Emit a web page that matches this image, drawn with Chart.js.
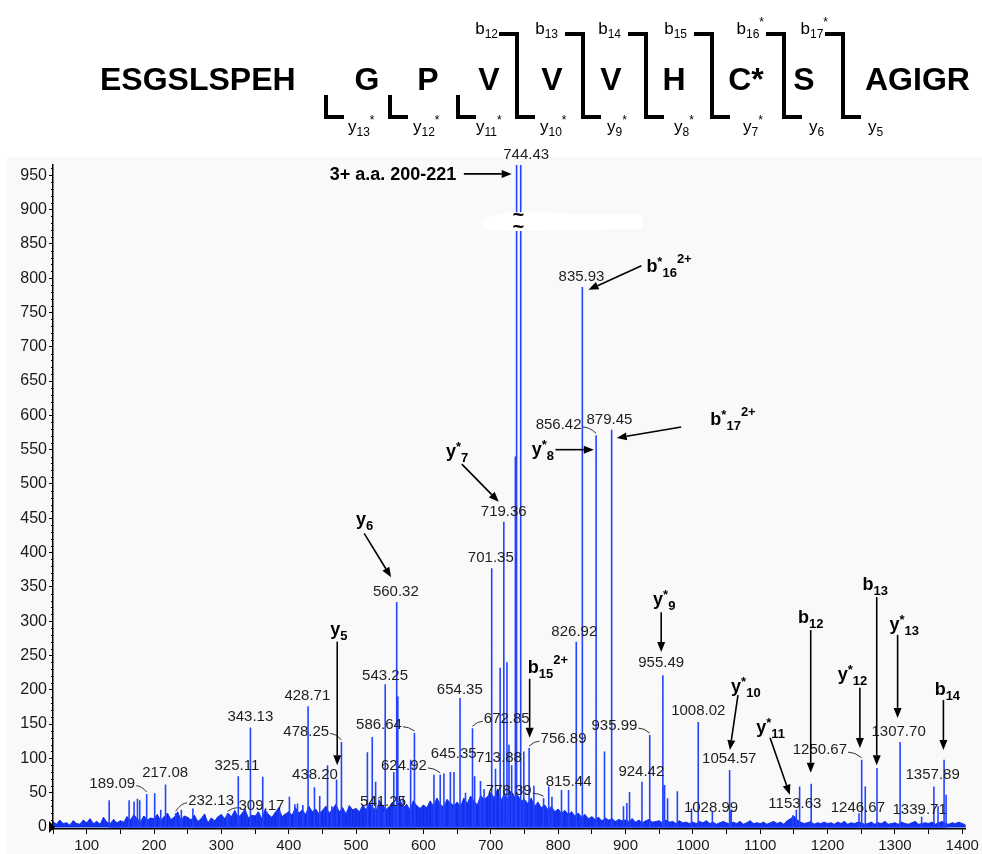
<!DOCTYPE html>
<html>
<head>
<meta charset="utf-8">
<script src="https://cdn.jsdelivr.net/npm/chart.js@4.4.1/dist/chart.umd.min.js"></script>
<style>
  html, body { margin: 0; padding: 0; background: #fff; }
  #wrap { width: 982px; height: 854px; }
</style>
</head>
<body>
<div id="wrap"><canvas id="spec" width="982" height="854"></canvas></div>
<script>
// ---- data ----
const peakMz = [133.4, 163.0, 170.4, 175.4, 178.8, 189.09, 201.0, 210.0, 217.08, 232.13, 240.5, 257.7,
  309.17, 325.11, 343.13, 361.4, 386.0, 401.0, 409.0, 413.0, 421.0, 428.71, 438.20, 446.0, 457.6, 464.0,
  471.0, 478.25, 516.8, 524.0, 529.0, 534.0, 541.25, 543.25, 556.0, 560.32, 562.0, 570.0, 581.0, 586.64,
  615.6, 624.92, 630.4, 640.0, 645.35, 654.35, 662.5, 672.85, 676.0, 684.7, 690.0, 701.35, 707.0, 713.88,
  719.36, 724.0, 727.0, 731.0, 736.5, 738.3, 744.43, 749.0, 756.89, 764.0, 778.39, 786.0, 790.8, 805.0,
  815.44, 826.92, 835.93, 856.42, 868.8, 879.45, 897.0, 902.0, 906.0, 924.42, 935.99, 955.49, 958.0,
  962.5, 977.0, 998.0, 1008.02, 1028.99, 1054.57, 1057.0, 1148.6, 1153.63, 1158.5, 1175.7, 1246.67,
  1250.67, 1256.0, 1273.4, 1307.70, 1339.71, 1357.89, 1364.0, 1373.0, 1376.0];
const peakIntensity = [39, 39, 37, 41, 39, 48, 49, 25, 62, 20, 25, 27,
  20, 74, 145, 73, 26, 44, 33, 34, 32, 176, 58, 45, 90, 30,
  69, 124, 109, 131, 66, 40, 22, 208, 80, 328, 190, 45, 98, 137,
  76, 76, 78, 80, 80, 188, 50, 144, 74, 67, 55, 377, 85, 232,
  445, 240, 120, 90, 540, 1100, 1100, 110, 115, 60, 42, 59, 44, 54,
  54, 270, 787, 571, 110, 579, 30, 35, 51, 66, 134, 221, 61,
  42, 52, 27, 153, 22, 83, 24, 17, 25, 59, 63, 20,
  98, 59, 86, 124, 15, 59, 30, 98, 47];

// baseline noise envelope, every 5 m/z from 50 to 1405
const noiseStartMz = 50;
const noiseStepMz = 5;
const noiseLevels = [
  8, 4, 10, 5, 6, 3, 9, 5, 4, 10,
  6, 12, 5, 8, 4, 14, 7, 5, 11, 6,
  9, 7, 15, 10, 18, 12, 8, 16, 10, 13,
  12, 18, 9, 15, 20, 11, 14, 22, 10, 16,
  14, 10, 17, 8, 12, 19, 6, 13, 9, 15,
  18, 12, 20, 15, 24, 14, 19, 26, 13, 17,
  16, 22, 12, 25, 18, 14, 21, 28, 15, 19,
  22, 17, 28, 20, 25, 18, 30, 22, 26, 19,
  24, 30, 20, 26, 33, 22, 28, 19, 31, 25,
  27, 22, 32, 25, 35, 28, 24, 38, 30, 26,
  30, 36, 26, 40, 28, 33, 25, 38, 31, 27,
  32, 28, 38, 30, 42, 33, 29, 40, 35, 31,
  36, 30, 42, 34, 45, 38, 32, 46, 40, 44,
  50, 42, 55, 38, 48, 40, 52, 44, 46, 38,
  40, 34, 42, 30, 36, 28, 32, 25, 30, 22,
  26, 20, 24, 18, 22, 16, 20, 14, 18, 12,
  15, 11, 14, 9, 13, 10, 12, 8, 11, 9,
  10, 8, 12, 7, 10, 6, 9, 11, 7, 8,
  9, 6, 10, 7, 8, 5, 9, 6, 7, 5,
  7, 5, 8, 6, 9, 5, 7, 4, 6, 8,
  6, 4, 7, 5, 8, 4, 6, 9, 5, 6,
  5, 7, 4, 6, 8, 5, 7, 4, 9, 12,
  16, 10, 7, 5, 6, 8, 4, 6, 5, 7,
  5, 6, 4, 7, 5, 8, 4, 6, 5, 7,
  6, 4, 5, 7, 4, 6, 5, 8, 4, 5,
  6, 4, 7, 5, 4, 6, 8, 4, 5, 6,
  5, 7, 4, 6, 8, 5, 4, 6, 5, 7,
  5, 3];

// peak m/z labels: text, where the label sits (m/z, intensity)
const peakLabels = ['744.43', '835.93', '856.42', '879.45', '719.36', '701.35', '560.32', '826.92',
  '543.25', '654.35', '586.64', '672.85', '756.89', '713.88', '624.92', '645.35', '778.39', '815.44',
  '541.25', '935.99', '924.42', '955.49', '1008.02', '1054.57', '1028.99', '1153.63', '1250.67',
  '1246.67', '1307.70', '1357.89', '1339.71', '428.71', '478.25', '343.13', '325.11', '438.20',
  '217.08', '189.09', '232.13', '309.17'];
const peakLabelMz = [752.5, 834.7, 800.7, 876.2, 719.2, 700, 559, 824,
  543, 654, 534, 723.7, 808, 712, 571, 645, 726.7, 815.5,
  540, 883.6, 923.5, 953, 1008, 1054, 1027, 1151.5, 1188.6,
  1245, 1305.5, 1356, 1336.7, 427.6, 426, 343, 323, 439,
  216.6, 138, 284.7, 359.5];
const peakLabelLevel = [980, 802, 586, 593, 459, 392, 343, 284,
  220, 200, 149, 157, 128, 101, 89, 106, 52, 66,
  36, 147, 80, 239, 169, 99, 28, 34, 112,
  28, 138, 76, 25, 191, 139, 160, 89, 76,
  79, 63, 38, 31];
const ledLabels = ['856.42', '586.64', '672.85', '756.89', '624.92', '778.39', '935.99', '1250.67',
  '478.25', '189.09', '232.13', '309.17'];

// fragment-ion call-outs: text parts, label anchor, arrow tail -> tip (all m/z, intensity)
const ionCallouts = [
  { parts: [['3+ a.a. 200-221', 'M']], at: [554.9, 943], align: 'center', arrow: [660, 952, 731, 952] },
  { parts: [['b', 'M'], ['*', 'A'], ['16', 'S'], ['2+', 'P']], at: [931, 809], arrow: [923.6, 818, 845, 783] },
  { parts: [['b', 'M'], ['*', 'A'], ['17', 'S'], ['2+', 'P']], at: [1026, 586], arrow: [982.8, 583, 887, 567] },
  { parts: [['y', 'M'], ['*', 'A'], ['8', 'S']], at: [760.7, 542], arrow: [796, 550, 853, 550] },
  { parts: [['y', 'M'], ['*', 'A'], ['7', 'S']], at: [633.4, 539], arrow: [657, 529, 711.8, 474] },
  { parts: [['y', 'M'], ['6', 'S']], at: [500, 440], arrow: [512, 428, 552, 364] },
  { parts: [['y', 'M'], ['5', 'S']], at: [461.6, 280], arrow: [472, 270, 472, 90] },
  { parts: [['b', 'M'], ['15', 'S'], ['2+', 'P']], at: [754.8, 224], arrow: [757.7, 216, 757.7, 130] },
  { parts: [['y', 'M'], ['*', 'A'], ['9', 'S']], at: [941, 324], arrow: [953, 313, 953, 255] },
  { parts: [['y', 'M'], ['*', 'A'], ['10', 'S']], at: [1056.8, 197], arrow: [1067, 192, 1055, 112] },
  { parts: [['y', 'M'], ['*', 'A'], ['11', 'S']], at: [1094, 137], arrow: [1114.6, 130, 1144, 47] },
  { parts: [['b', 'M'], ['12', 'S']], at: [1156, 297], arrow: [1175, 287, 1175, 79] },
  { parts: [['b', 'M'], ['13', 'S']], at: [1252, 345], arrow: [1273, 335, 1273, 90] },
  { parts: [['y', 'M'], ['*', 'A'], ['12', 'S']], at: [1215, 214], arrow: [1248, 203, 1248, 115] },
  { parts: [['y', 'M'], ['*', 'A'], ['13', 'S']], at: [1292, 287], arrow: [1304, 280, 1304, 159] },
  { parts: [['b', 'M'], ['14', 'S']], at: [1359, 192], arrow: [1372, 185, 1372, 112] }
];

// peptide sequence header
const residues = ['ESGSLSPEH', 'G', 'P', 'V', 'V', 'V', 'H', 'C*', 'S', 'AGIGR'];
const bIons = [['12', ''], ['13', ''], ['14', ''], ['15', ''], ['16', '*'], ['17', '*']];
const yIons = [['13', '*'], ['12', '*'], ['11', '*'], ['10', '*'], ['9', '*'], ['8', '*'], ['7', '*'], ['6', ''], ['5', '']];

// ---- layout of the header (pixels) ----
const residueX = [100, 367, 428, 489, 552, 611, 674, 746, 804, 865];
const bracketX = [326, 390, 458, 517, 583, 646, 712, 784, 843];
const bLabelRight = [498, 558, 621, 687, 764, 828];
const yLabelLeft = [348, 413, 476, 540, 607, 674, 743, 809, 868];

const FONT = "'Liberation Sans', Arial, Helvetica, sans-serif";
const STYLES = {
  M: { size: 18, bold: true, dy: 0 },
  A: { size: 13, bold: true, dy: -6 },
  S: { size: 13, bold: true, dy: 5 },
  P: { size: 13, bold: true, dy: -9 },
  hm: { size: 17, bold: false, dy: 0 },
  hs: { size: 12, bold: false, dy: 4 },
  hp: { size: 12, bold: false, dy: -8 }
};

function rich(ctx, parts, x, y, align) {
  let w = 0;
  const segs = parts.map(([t, k]) => {
    const s = STYLES[k];
    ctx.font = (s.bold ? 'bold ' : '') + s.size + 'px ' + FONT;
    const tw = ctx.measureText(t).width;
    w += tw;
    return { t, s, tw };
  });
  let cx = align === 'center' ? x - w / 2 : align === 'right' ? x - w : x;
  ctx.textAlign = 'left';
  ctx.textBaseline = 'alphabetic';
  segs.forEach(g => {
    ctx.font = (g.s.bold ? 'bold ' : '') + g.s.size + 'px ' + FONT;
    ctx.fillText(g.t, cx, y + g.s.dy);
    cx += g.tw;
  });
  return w;
}

function arrow(ctx, x1, y1, x2, y2) {
  const ang = Math.atan2(y2 - y1, x2 - x1);
  const hl = 10, hw = 4;
  const bx = x2 - hl * Math.cos(ang), by = y2 - hl * Math.sin(ang);
  ctx.beginPath();
  ctx.moveTo(x1, y1);
  ctx.lineTo(bx, by);
  ctx.stroke();
  ctx.beginPath();
  ctx.moveTo(x2, y2);
  ctx.lineTo(bx - hw * Math.sin(ang), by + hw * Math.cos(ang));
  ctx.lineTo(bx + hw * Math.sin(ang), by - hw * Math.cos(ang));
  ctx.closePath();
  ctx.fill();
}

const decor = {
  id: 'decor',
  beforeDraw(chart) {
    const ctx = chart.ctx;
    ctx.save();
    ctx.fillStyle = '#ffffff';
    ctx.fillRect(0, 0, chart.width, chart.height);
    ctx.fillStyle = '#f9f9f9';
    ctx.fillRect(7, 157, chart.width - 7, chart.height - 157);
    ctx.restore();
  },
  afterDraw(chart) {
    const ctx = chart.ctx;
    const xs = chart.scales.x, ys = chart.scales.y;
    const px = v => xs.getPixelForValue(v);
    const py = v => ys.getPixelForValue(v);
    ctx.save();

    // broken axis band over the precursor peaks
    ctx.fillStyle = '#ffffff';
    ctx.beginPath();
    ctx.moveTo(px(688), py(884));
    ctx.quadraticCurveTo(px(700), py(898), px(760), py(896));
    ctx.lineTo(px(860), py(893));
    ctx.lineTo(px(925), py(893));
    ctx.lineTo(px(925), py(872));
    ctx.lineTo(px(800), py(870));
    ctx.quadraticCurveTo(px(700), py(866), px(688), py(874));
    ctx.closePath();
    ctx.fill();
    ctx.fillStyle = '#000';
    ctx.font = 'bold 20px ' + FONT;
    ctx.textAlign = 'center';
    ctx.textBaseline = 'middle';
    ctx.fillText('~', px(741), py(892));
    ctx.fillText('~', px(741), py(874));

    // minor ticks on the y axis
    ctx.strokeStyle = '#000';
    ctx.lineWidth = 1;
    const x0 = chart.chartArea.left;
    for (let v = 10; v <= 960; v += 10) {
      if (v % 50 === 0) continue;
      const y = Math.round(py(v)) + 0.5;
      ctx.beginPath();
      ctx.moveTo(x0 - 2, y);
      ctx.lineTo(x0, y);
      ctx.stroke();
    }
    // zero marker
    ctx.fillStyle = '#000';
    ctx.beginPath();
    ctx.moveTo(x0 - 4, py(0) - 6);
    ctx.lineTo(x0 + 2, py(0));
    ctx.lineTo(x0 - 4, py(0) + 6);
    ctx.closePath();
    ctx.fill();

    // peak labels
    ctx.font = '15px ' + FONT;
    ctx.textAlign = 'center';
    ctx.textBaseline = 'middle';
    peakLabels.forEach((t, i) => {
      const cx = px(peakLabelMz[i]), cy = py(peakLabelLevel[i]);
      ctx.fillStyle = '#1e1e1e';
      ctx.fillText(t, cx, cy);
      if (ledLabels.includes(t)) {
        const m = parseFloat(t);
        const k = peakMz.indexOf(m);
        const tx = px(m), ty = py(peakIntensity[k]) - 2;
        const w = ctx.measureText(t).width;
        const sx = tx > cx ? cx + w / 2 + 1 : cx - w / 2 - 1;
        const sy = cy + 2;
        ctx.strokeStyle = '#333';
        ctx.lineWidth = 1;
        ctx.beginPath();
        ctx.moveTo(sx, sy);
        ctx.quadraticCurveTo((sx + tx) / 2, sy, tx, ty);
        ctx.stroke();
      }
    });

    // ion call-outs
    ctx.fillStyle = '#000';
    ctx.strokeStyle = '#000';
    ionCallouts.forEach(c => {
      rich(ctx, c.parts, px(c.at[0]), py(c.at[1]), c.align || 'left');
      const a = c.arrow;
      ctx.lineWidth = 1.6;
      arrow(ctx, px(a[0]), py(a[1]), px(a[2]), py(a[3]));
    });

    // sequence header
    ctx.fillStyle = '#000';
    ctx.font = 'bold 32px ' + FONT;
    ctx.textBaseline = 'alphabetic';
    residues.forEach((r, i) => {
      ctx.textAlign = (i === 0 || i === residues.length - 1) ? 'left' : 'center';
      ctx.fillText(r, residueX[i], 90);
    });
    ctx.lineWidth = 4;
    ctx.lineJoin = 'miter';
    ctx.lineCap = 'butt';
    bracketX.forEach((bx, i) => {
      ctx.beginPath();
      if (i < 3) {
        ctx.moveTo(bx, 95);
      } else {
        ctx.moveTo(bx - 18, 34);
        ctx.lineTo(bx, 34);
      }
      ctx.lineTo(bx, 117);
      ctx.lineTo(bx + 18, 117);
      ctx.stroke();
    });
    bIons.forEach((b, i) => {
      rich(ctx, [['b', 'hm'], [b[0], 'hs'], [b[1], 'hp']], bLabelRight[i], 34, 'right');
    });
    yIons.forEach((y, i) => {
      rich(ctx, [['y', 'hm'], [y[0], 'hs'], [y[1], 'hp']], yLabelLeft[i], 132, 'left');
    });
    ctx.restore();
  }
};

const stemPoints = [];
peakMz.forEach((m, i) => {
  stemPoints.push({ x: m, y: 0 }, { x: m, y: peakIntensity[i] }, { x: m, y: 0 });
});
const noisePoints = noiseLevels.map((v, i) => ({ x: noiseStartMz + i * noiseStepMz, y: v }));
const noiseStems = [];
noisePoints.forEach(p => {
  noiseStems.push({ x: p.x, y: 0 }, { x: p.x, y: p.y }, { x: p.x, y: 0 });
});

new Chart(document.getElementById('spec'), {
  type: 'line',
  data: {
    datasets: [
      {
        data: noisePoints,
        borderColor: '#1a38f2',
        backgroundColor: '#1a38f2',
        borderWidth: 1,
        pointRadius: 0,
        fill: 'origin',
        tension: 0,
        order: 3
      },
      {
        data: noiseStems,
        borderColor: '#0c2ce8',
        borderWidth: 1.2,
        pointRadius: 0,
        fill: false,
        tension: 0,
        order: 2
      },
      {
        data: stemPoints,
        borderColor: '#2443ff',
        borderWidth: 1.6,
        pointRadius: 0,
        fill: false,
        tension: 0,
        order: 1
      }
    ]
  },
  options: {
    responsive: false,
    animation: false,
    devicePixelRatio: 1,
    layout: { padding: { top: 165, right: 14, left: 0, bottom: 0 } },
    plugins: { legend: { display: false }, tooltip: { enabled: false } },
    scales: {
      x: {
        type: 'linear',
        min: 50,
        max: 1405,
        afterFit: s => { s.height = 25; },
        border: { color: '#000', width: 1.5 },
        grid: { drawOnChartArea: false, tickLength: 5, color: '#000' },
        ticks: {
          stepSize: 50, includeBounds: false, autoSkip: false, maxRotation: 0, padding: 3,
          color: '#1a1a1a', font: { size: 15, family: FONT },
          callback: v => (v % 100 === 0 ? String(v) : '')
        }
      },
      y: {
        min: -3,
        max: 965,
        afterFit: s => { s.width = 53; },
        border: { color: '#000', width: 1.5 },
        grid: { drawOnChartArea: false, tickLength: 4, color: '#000' },
        ticks: {
          stepSize: 50, includeBounds: false, padding: 2,
          color: '#1a1a1a', font: { size: 16, family: FONT },
          callback: v => String(v)
        }
      }
    }
  },
  plugins: [decor]
});
</script>
</body>
</html>
